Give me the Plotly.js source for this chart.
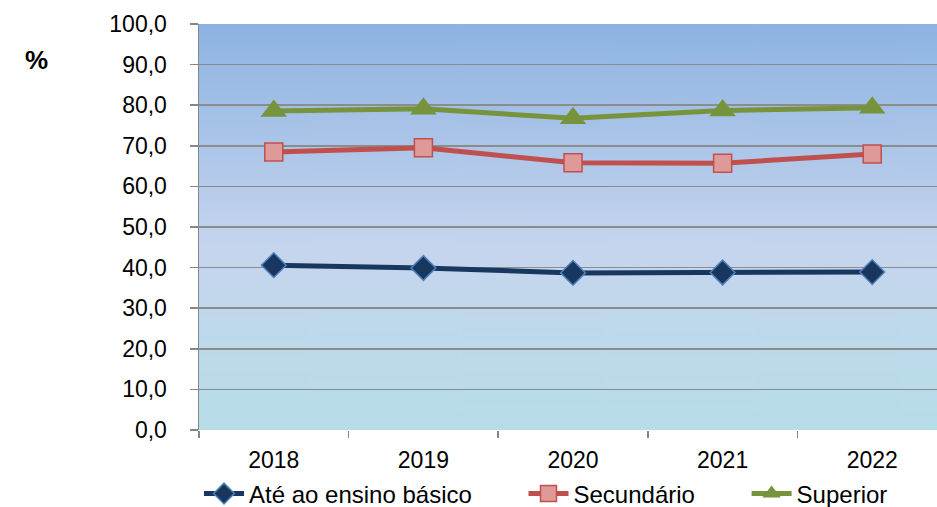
<!DOCTYPE html>
<html>
<head>
<meta charset="utf-8">
<script src="https://cdn.plot.ly/plotly-3.0.1.min.js"></script>
<style>html,body{margin:0;padding:0;background:#fff;}#chart{width:937px;height:507px;}</style>
</head>
<body>
<div id="chart"></div>
<script>
var years = ['2018', '2019', '2020', '2021', '2022'];
var basico = [40.6, 39.9, 38.7, 38.8, 38.9];
var secundario = [68.5, 69.5, 65.8, 65.7, 68.0];
var superior = [78.6, 79.1, 76.8, 78.7, 79.4];
var seriesNames = ['Até ao ensino básico', 'Secundário', 'Superior'];
var yTicks = [0, 10, 20, 30, 40, 50, 60, 70, 80, 90, 100];
var yTickText = yTicks.map(function (v) { return v.toFixed(1).replace('.', ','); });

// legend spacing padding (non-breaking spaces)
var pad = '\u00a0\u00a0\u00a0\u00a0\u00a0\u00a0\u00a0';

// gradient background image
var cv = document.createElement('canvas');
cv.width = 10; cv.height = 400;
var ctx = cv.getContext('2d');
var g = ctx.createLinearGradient(0, 0, 0, 400);
g.addColorStop(0, '#8DB3E2');
g.addColorStop(0.55, '#C6D5EE');
g.addColorStop(1, '#B6DDE8');
ctx.fillStyle = g;
ctx.fillRect(0, 0, 10, 400);
var bg = cv.toDataURL('image/png');

var font = 'Liberation Sans, Arial, sans-serif';

var traces = [
  {x: years, y: basico, name: seriesNames[0] + pad, type: 'scatter', mode: 'lines+markers',
   line: {color: '#17375E', width: 5},
   marker: {symbol: 'diamond', size: 19, color: '#17375E', line: {color: '#4F81BD', width: 1.5}}},
  {x: years, y: secundario, name: seriesNames[1] + pad, type: 'scatter', mode: 'lines+markers',
   line: {color: '#C0504D', width: 5},
   marker: {symbol: 'square', size: 18, color: '#DE9A99', line: {color: '#C0504D', width: 1.5}}},
  {x: years, y: superior, name: seriesNames[2], type: 'scatter', mode: 'lines+markers',
   line: {color: '#77933C', width: 5},
   marker: {symbol: 'triangle-up', size: 23, color: '#77933C', line: {color: '#77933C', width: 0}}}
];

var layout = {
  width: 937, height: 507,
  margin: {l: 199, r: 0, t: 24, b: 77, pad: 0, autoexpand: false},
  paper_bgcolor: '#ffffff',
  plot_bgcolor: 'rgba(0,0,0,0)',
  font: {family: font, size: 23, color: '#000'},
  showlegend: true,
  legend: {orientation: 'h', x: 0.0, xanchor: 'left', y: -0.102, yanchor: 'top',
           font: {family: font, size: 24, color: '#000'}, itemwidth: 40, tracegroupgap: 0,
           bgcolor: 'rgba(0,0,0,0)'},
  xaxis: {type: 'category', range: [-0.5, 4.433], tickson: 'boundaries',
          ticks: 'outside', ticklen: 7, tickcolor: '#868686', tickwidth: 1.5,
          showline: false, showgrid: false, zeroline: false,
          ticklabelstandoff: 14, tickfont: {family: font, size: 23, color: '#000'}},
  yaxis: {range: [0, 100], tickvals: yTicks, ticktext: yTickText,
          ticks: 'outside', ticklen: 8, tickcolor: '#868686', tickwidth: 1.5,
          showline: true, linecolor: '#868686', linewidth: 1.5,
          showgrid: true, gridcolor: '#8C8C8C', gridwidth: 1.5, zeroline: false,
          ticklabelstandoff: 18, tickfont: {family: font, size: 23, color: '#000'}},
  images: [{source: bg, xref: 'paper', yref: 'paper', x: 0, y: 1, sizex: 1, sizey: 1,
            xanchor: 'left', yanchor: 'top', sizing: 'stretch', layer: 'below'}],
  annotations: [{text: '<b>%</b>', xref: 'paper', yref: 'paper', x: -0.22, y: 0.911,
                 xanchor: 'center', yanchor: 'middle', showarrow: false,
                 font: {family: font, size: 26, color: '#000'}}]
};

Plotly.newPlot('chart', traces, layout, {displayModeBar: false, staticPlot: true});
</script>
</body>
</html>
